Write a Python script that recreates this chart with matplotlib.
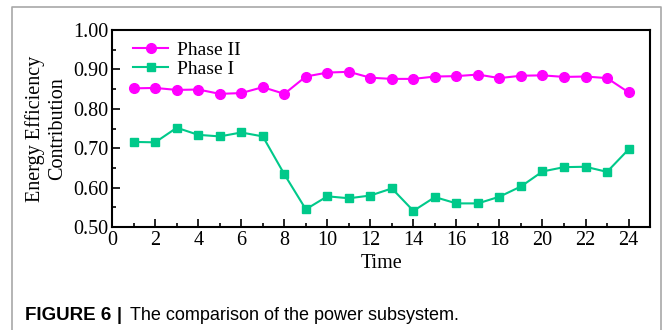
import matplotlib
matplotlib.use('Agg')
import matplotlib.pyplot as plt
from matplotlib.lines import Line2D
from matplotlib.ticker import MultipleLocator

time = list(range(1, 25))
phase2 = [0.852, 0.853, 0.848, 0.849, 0.838, 0.840, 0.855, 0.838, 0.882, 0.892,
          0.894, 0.879, 0.876, 0.876, 0.882, 0.883, 0.887, 0.878, 0.884, 0.885,
          0.881, 0.882, 0.878, 0.842]
phase1 = [0.716, 0.715, 0.752, 0.734, 0.730, 0.740, 0.730, 0.634, 0.545, 0.578,
          0.573, 0.580, 0.598, 0.541, 0.576, 0.560, 0.560, 0.577, 0.603, 0.641,
          0.652, 0.653, 0.640, 0.697]
yticks = [0.50, 0.60, 0.70, 0.80, 0.90, 1.00]
xticks = list(range(0, 25, 2))

plt.rcParams['font.family'] = ['Liberation Serif', 'DejaVu Serif']

fig = plt.figure(figsize=(6.64, 3.30), dpi=100)
ax = fig.add_axes([0.169, 0.312, 0.810, 0.597])

ax.plot(time, phase2, color='#ff00ff', marker='o', markersize=7, linewidth=1.5, label='Phase II')
ax.plot(time, phase1, color='#00c98a', marker='s', markersize=6, linewidth=1.5, label='Phase I')

ax.set_xlim(0, 25)
ax.set_ylim(0.5, 1.0)
ax.set_xticks(xticks)
ax.set_yticks(yticks)
ax.set_yticklabels([f'{v:.2f}' for v in yticks])
ax.xaxis.set_minor_locator(MultipleLocator(1))
ax.yaxis.set_minor_locator(MultipleLocator(0.05))
ax.tick_params(which='both', direction='in', labelsize=14.5, width=1.2)
ax.tick_params(which='major', length=6, pad=3)
ax.tick_params(which='minor', length=3)
for s in ax.spines.values():
    s.set_linewidth(1.5)

ax.set_xlabel('Time', fontsize=14.5, labelpad=3)
ax.set_ylabel('Energy Efficiency\nContribution', fontsize=14.5, labelpad=4)

ax.legend(loc='upper left', bbox_to_anchor=(0.039, 0.942), frameon=False, fontsize=14,
          handlelength=1.8, borderaxespad=0, borderpad=0, labelspacing=0.05,
          handletextpad=0.45)

# outer gray frame around the figure panel
frame = Line2D([12 / 664, 12 / 664, 661 / 664, 661 / 664],
               [0.0, 1 - 7 / 330, 1 - 7 / 330, 0.0],
               transform=fig.transFigure, color='#a8a8a8', linewidth=1.2)
fig.add_artist(frame)

cap_y = 1 - 316 / 330
fig.text(25 / 664, cap_y, 'FIGURE 6', fontsize=13.5, fontweight='bold',
         family='Liberation Sans', va='center', ha='left')
fig.text(117 / 664, cap_y, '|', fontsize=13, fontweight='bold',
         family='Liberation Sans', va='center', ha='left')
fig.text(130 / 664, cap_y, 'The comparison of the power subsystem.', fontsize=13,
         family='Liberation Sans', va='center', ha='left')

fig.savefig('out.png', dpi=100)
